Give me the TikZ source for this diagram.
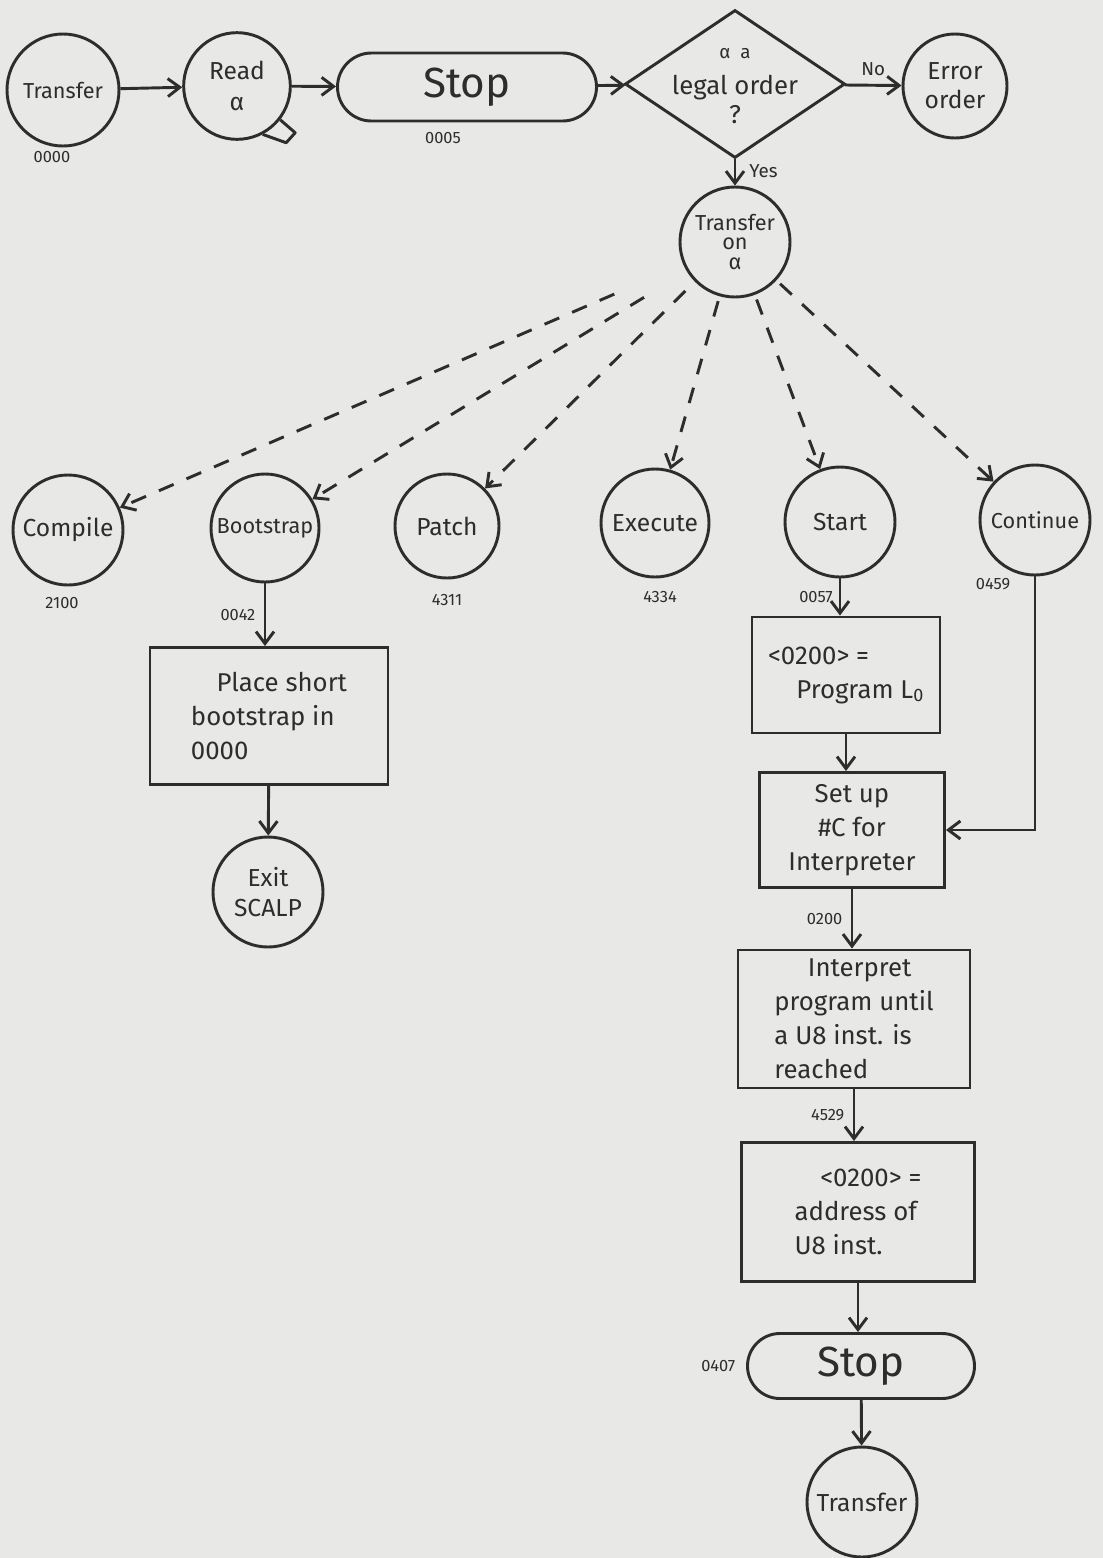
\documentclass[tikz,border=0pt]{standalone}
\usepackage{fontspec}
\usetikzlibrary{arrows.meta,shapes.geometric}
\setmainfont{Fira Sans}
\definecolor{inkc}{RGB}{45,45,45}
\definecolor{paperc}{RGB}{232,232,230}
\newcommand{\circfont}{\fontsize{21}{25}\selectfont}
\newcommand{\narrowfont}{\fontsize{18.5}{22}\selectfont}
\newcommand{\boxfont}{\fontsize{22}{29}\selectfont}
\newcommand{\stopfont}{\fontsize{36}{40}\selectfont}
\newcommand{\lblfont}{\fontsize{14}{16}\selectfont}
\newcommand{\edgefont}{\fontsize{16}{18}\selectfont}
\begin{document}
\begin{tikzpicture}[x=0.03cm,y=-0.03cm,
  ink/.style={draw=inkc, line width=2.5pt},
  state/.style={ink, circle, minimum size=3.3cm, inner sep=0pt, align=center, font=\circfont, text=inkc},
  term/.style={ink, rectangle, inner sep=0pt, font=\stopfont, text=inkc},
  procbox/.style={ink, rectangle, inner sep=0pt, font=\boxfont, text=inkc},
  decision/.style={ink, diamond, inner sep=0pt, minimum width=6.6cm, minimum height=4.44cm},
  lbl/.style={font=\lblfont, text=inkc, inner sep=1pt},
  edgelbl/.style={font=\edgefont, text=inkc, inner sep=1pt},
  flow/.style={ink, -{Straight Barb[length=0.36cm, width=0.54cm]}},
  dflow/.style={flow, dash pattern=on 0.48cm off 0.42cm}]

% paper
\fill[paperc] (0,0) rectangle (1103,1558);
\useasboundingbox (0,0) rectangle (1103,1558);

% ---------- top row ----------
\node[state, minimum size=3.36cm, font=\narrowfont] (xfer) at (63,90) {Transfer};
\node[lbl] (l0000) at (52,157) {0000};

\node[state, minimum size=3.2cm] (read) at (237,86) {Read\\[2pt]α};
\draw[ink, line join=round] (read.-38) -- ++(15,13) -- ++(-9,10) -- (read.-62);

\node[term, minimum width=7.77cm, minimum height=2.04cm, rounded corners=1.02cm] (stop1) at (467,87) {Stop};
\node[lbl] (l0005) at (443,138) {0005};

\node[decision] (legal) at (735,84) {};
\node[font=\boxfont, text=inkc, align=center] (legaltxt) at (735,86)
  {{\edgefont α\ \ a}\\[2pt]legal order\\[-4pt]?};

\node[state, minimum size=3.12cm] (err) at (955,86) {Error\\order};
\node[state, font=\narrowfont] (tona) at (735,242) {Transfer\\[-5pt]on\\[-5pt]α};

\draw[flow] (xfer) -- (read);
\draw[flow] (read) -- (stop1);
\draw[flow] (stop1) -- (legal);
\draw[flow] (legal) -- node[edgelbl, above=6pt, pos=0.5] (lno) {No} (err);
\draw[flow] (legal.south) -- node[edgelbl, right=10pt, pos=0.45] (lyes) {Yes} (tona);

% ---------- branch targets ----------
\node[state] (comp) at (68,530) {Compile};
\node[lbl] (l2100) at (62,603) {2100};
\node[state, minimum size=3.24cm, font=\narrowfont] (boot) at (265,528) {Bootstrap};
\node[state, minimum size=3.12cm] (patch) at (447,526) {Patch};
\node[lbl] (l4311) at (447,600) {4311};
\node[state, minimum size=3.24cm] (exec) at (655,523) {Execute};
\node[lbl] (l4334) at (660,597) {4334};
\node[state] (start) at (840,522) {Start};
\node[state, font=\narrowfont] (cont) at (1035,520) {Continue};

\draw[dflow, shorten <=2.25cm] (tona) -- (comp);
\draw[dflow, shorten <=1.5cm] (tona) -- (boot);
\draw[dflow, shorten <=0.4cm] (tona) -- (patch);
\draw[dflow, shorten <=0.15cm] (tona) -- (exec);
\draw[dflow, shorten <=0.15cm] (tona) -- (start);
\draw[dflow, shorten <=0.15cm] (tona) -- (cont);

% ---------- bootstrap column ----------
\node[procbox, minimum width=7.14cm, minimum height=4.11cm, align=left] (place) at (269,716)
  {\hspace{1.0em}Place short\\bootstrap in\\0000};
\node[state] (exit) at (268,892) {Exit\\SCALP};
\draw[flow] (boot) -- (boot |- place.north) node[lbl, pos=0.5, left=6pt] (l0042) {0042};
\draw[flow] (place) -- (exit);

% ---------- interpreter column ----------
\node[procbox, minimum width=5.64cm, minimum height=3.48cm, align=left] (setloc) at (846,675)
  {<0200> =\\\hspace{1.1em}Program L\textsubscript{0}};
\node[procbox, minimum width=5.55cm, minimum height=3.45cm, align=center] (setc) at (852,830)
  {Set up\\\#C for\\Interpreter};
\node[procbox, minimum width=6.96cm, minimum height=4.14cm, align=left] (interp) at (854,1019)
  {\hspace{1.3em}Interpret\\program until\\a U8 inst. is\\reached};
\node[procbox, minimum width=6.99cm, minimum height=4.17cm, align=left] (saveloc) at (858,1212)
  {\hspace{1.0em}<0200> =\\address of\\U8 inst.};
\node[term, minimum width=6.81cm, minimum height=1.95cm, rounded corners=0.975cm] (stop2) at (861,1366) {Stop};
\node[state] (xferend) at (862,1502) {Transfer};

\draw[flow] (start) -- (start |- setloc.north) node[lbl, pos=0.5, left=4pt] (l0057) {0057};
\draw[flow] (setloc) -- (setloc |- setc.north);
\draw[flow] (cont) |- (setc.east);
\node[lbl] (l0459) at (993,584) {0459};
\draw[flow] (setc) -- (setc |- interp.north) node[lbl, pos=0.5, left=6pt] (l0200) {0200};
\draw[flow] (interp) -- (interp |- saveloc.north) node[lbl, pos=0.5, left=6pt] (l4529) {4529};
\draw[flow] (saveloc) -- (saveloc |- stop2.north);
\node[lbl, left=8pt] (l0407) at (stop2.west) {0407};
\draw[flow] (stop2) -- (xferend);
\end{tikzpicture}
\end{document}
